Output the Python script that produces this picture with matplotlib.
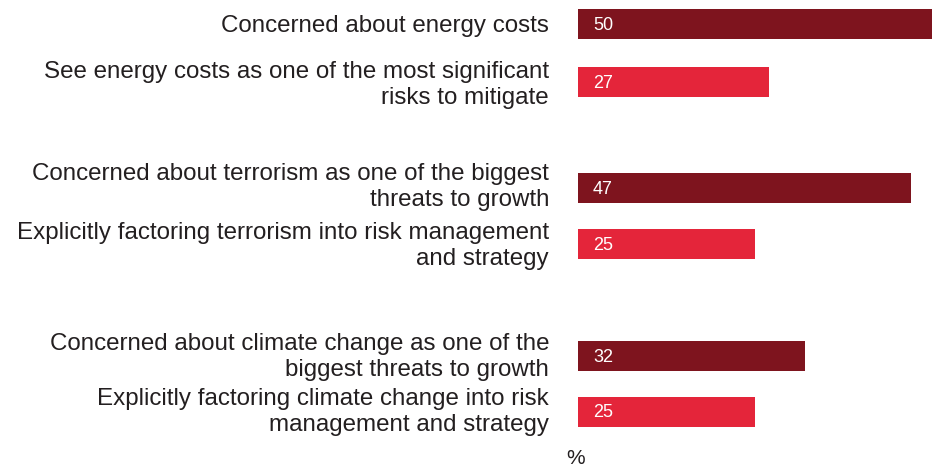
import matplotlib
matplotlib.use("Agg")
import matplotlib.pyplot as plt
from matplotlib.transforms import offset_copy

# ---- data ----
categories = [
    "Concerned about energy costs",
    "See energy costs as one of the most significant\nrisks to mitigate",
    "Concerned about terrorism as one of the biggest\nthreats to growth",
    "Explicitly factoring terrorism into risk management\nand strategy",
    "Concerned about climate change as one of the\nbiggest threats to growth",
    "Explicitly factoring climate change into risk\nmanagement and strategy",
]
values = [50, 27, 47, 25, 32, 25]
series = ["concerned", "acting", "concerned", "acting", "concerned", "acting"]
unit_label = "%"

# ---- layout / style ----
W, H = 939, 466
bar_y = [24.2, 82, 188.3, 244.3, 356, 411.5]      # pixel rows from top
label_baseline = [32, 78, 180, 239, 350, 405]
line_step = 26
colors = {"concerned": "#7E141E", "acting": "#E4253A"}
FONT = "Liberation Sans"

fig = plt.figure(figsize=(W / 100, H / 100), dpi=100)
ax = fig.add_axes([578 / W, 0, (932 - 578) / W, 1])
ax.set_xlim(0, 50)
ax.set_ylim(H, 0)
ax.axis("off")

ax.barh(bar_y, values, height=30, color=[colors[s] for s in series], linewidth=0)

val_tr = offset_copy(ax.transData, fig=fig, x=15, y=-1, units="dots")
for y, v in zip(bar_y, values):
    ax.text(0, y, str(v), transform=val_tr, ha="left", va="center",
            fontsize=13, color="white", family=FONT)

lab_tr = offset_copy(ax.transData, fig=fig, x=-29, units="dots")
for base, lab in zip(label_baseline, categories):
    for i, line in enumerate(lab.split("\n")):
        ax.text(0, base + i * line_step, line, transform=lab_tr, ha="right",
                va="baseline", fontsize=17.4, color="#231F20", family=FONT,
                clip_on=False)

pct_tr = offset_copy(ax.transData, fig=fig, x=-2, units="dots")
ax.text(0, 458, unit_label, transform=pct_tr, ha="center", va="center",
        fontsize=15, color="#231F20", family=FONT, clip_on=False)

fig.savefig("out.png", dpi=100)
